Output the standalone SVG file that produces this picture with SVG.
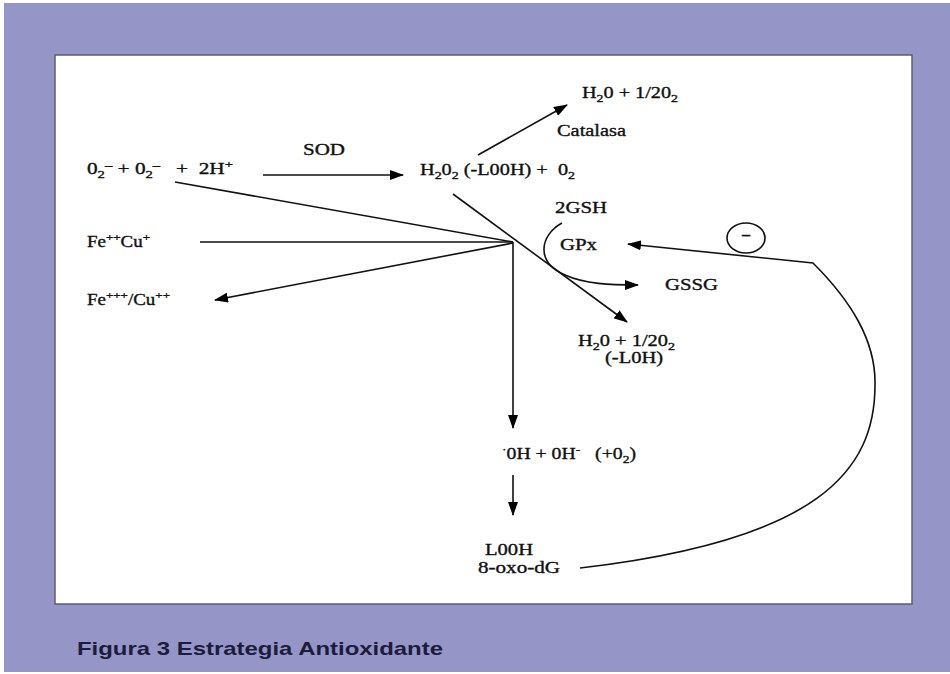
<svg xmlns="http://www.w3.org/2000/svg" width="950" height="674" viewBox="0 0 950 674">
<defs>
<marker id="ah" markerWidth="14" markerHeight="10" refX="13" refY="5" orient="auto" markerUnits="userSpaceOnUse">
<path d="M0,0 L14,5 L0,10 Z" fill="#000"/>
</marker>
<style>
.t{font-family:"Liberation Serif","Times New Roman",serif;font-size:16px;fill:#111;stroke:#111;stroke-width:0.35;white-space:pre}
.s{font-size:11px}
.ln{fill:none;stroke:#111;stroke-width:1.6}
.cap{font-family:"Liberation Sans",Arial,sans-serif;font-weight:bold;font-size:19px;fill:#1c1c3c}
</style>
</defs>
<rect x="0" y="0" width="950" height="674" fill="#fff"/>
<rect x="4" y="3" width="946" height="669" fill="#9595c7"/>
<rect x="55" y="55" width="857" height="549" fill="#fff" stroke="#5e5e72" stroke-width="1.5"/>

<g id="connectors">
<line class="ln" x1="263" y1="175" x2="403" y2="175" marker-end="url(#ah)"/>
<line class="ln" x1="478" y1="155" x2="567" y2="105" marker-end="url(#ah)"/>
<line class="ln" x1="175" y1="182" x2="513" y2="242"/>
<line class="ln" x1="200" y1="242" x2="513" y2="242"/>
<line class="ln" x1="513" y1="243" x2="215" y2="300" marker-end="url(#ah)"/>
<line class="ln" x1="453" y1="194" x2="627" y2="322" marker-end="url(#ah)"/>
<line class="ln" x1="513" y1="242" x2="513" y2="428" marker-end="url(#ah)"/>
<line class="ln" x1="513" y1="475" x2="513" y2="515" marker-end="url(#ah)"/>
<path class="ln" d="M562,223 C540,235 535,262 565,275 C585,284 610,285 638,285" marker-end="url(#ah)"/>
<path class="ln" d="M580,568 C820,540 875,470 875,385 C876,340 850,300 813,263 L628,244" marker-end="url(#ah)"/>
</g>

<g id="n-superoxide"><text class="t" x="87" y="174" textLength="146" lengthAdjust="spacingAndGlyphs">0<tspan class="s" dy="4">2</tspan><tspan class="s" dy="-9">–</tspan><tspan dy="5"> + 0</tspan><tspan class="s" dy="4">2</tspan><tspan class="s" dy="-9">–</tspan><tspan dy="5">   +  2H</tspan><tspan class="s" dy="-6">+</tspan></text></g>
<g id="n-sod"><text class="t" x="303" y="155" textLength="42" lengthAdjust="spacingAndGlyphs">SOD</text></g>
<g id="n-h2o2"><text class="t" x="420" y="175" textLength="155" lengthAdjust="spacingAndGlyphs">H<tspan class="s" dy="4">2</tspan><tspan dy="-4">0</tspan><tspan class="s" dy="4">2</tspan><tspan dy="-4"> (-L00H) +  0</tspan><tspan class="s" dy="4">2</tspan></text></g>
<g id="n-h2o-top"><text class="t" x="582" y="98" textLength="96" lengthAdjust="spacingAndGlyphs">H<tspan class="s" dy="4">2</tspan><tspan dy="-4">0 + 1/20</tspan><tspan class="s" dy="4">2</tspan></text></g>
<g id="n-catalasa"><text class="t" x="557" y="136" textLength="69" lengthAdjust="spacingAndGlyphs">Catalasa</text></g>
<g id="n-fe2"><text class="t" x="87" y="247" textLength="63" lengthAdjust="spacingAndGlyphs">Fe<tspan class="s" dy="-6">++</tspan><tspan dy="6">Cu</tspan><tspan class="s" dy="-6">+</tspan></text></g>
<g id="n-fe3"><text class="t" x="87" y="305" textLength="83" lengthAdjust="spacingAndGlyphs">Fe<tspan class="s" dy="-6">+++</tspan><tspan dy="6">/Cu</tspan><tspan class="s" dy="-6">++</tspan></text></g>
<g id="n-2gsh"><text class="t" x="555" y="213" textLength="52" lengthAdjust="spacingAndGlyphs">2GSH</text></g>
<g id="n-gpx"><text class="t" x="560" y="250" textLength="37" lengthAdjust="spacingAndGlyphs">GPx</text></g>
<g id="n-gssg"><text class="t" x="665" y="290" textLength="53" lengthAdjust="spacingAndGlyphs">GSSG</text></g>
<g id="n-h2o-mid"><text class="t" x="578" y="346" textLength="97" lengthAdjust="spacingAndGlyphs">H<tspan class="s" dy="4">2</tspan><tspan dy="-4">0 + 1/20</tspan><tspan class="s" dy="4">2</tspan></text>
<text class="t" x="605" y="363" textLength="58" lengthAdjust="spacingAndGlyphs">(-L0H)</text></g>
<g id="n-oh"><text class="t" x="502" y="459" textLength="134" lengthAdjust="spacingAndGlyphs"><tspan class="s" dy="-6">·</tspan><tspan dy="6">0H + 0H</tspan><tspan class="s" dy="-6">-</tspan><tspan dy="6">   (+0</tspan><tspan class="s" dy="4">2</tspan><tspan dy="-4">)</tspan></text></g>
<g id="n-looh"><text class="t" x="485" y="555" textLength="48" lengthAdjust="spacingAndGlyphs">L00H</text>
<text class="t" x="478" y="573" textLength="82" lengthAdjust="spacingAndGlyphs">8-oxo-dG</text></g>
<g id="n-minus"><ellipse cx="746" cy="238" rx="19" ry="15" fill="none" stroke="#111" stroke-width="1.6"/>
<text class="t" x="746" y="240" text-anchor="middle" font-weight="bold" font-size="18">–</text></g>

<g id="caption"><text class="cap" x="77" y="655" textLength="366" lengthAdjust="spacingAndGlyphs">Figura 3 Estrategia Antioxidante</text></g>
</svg>
